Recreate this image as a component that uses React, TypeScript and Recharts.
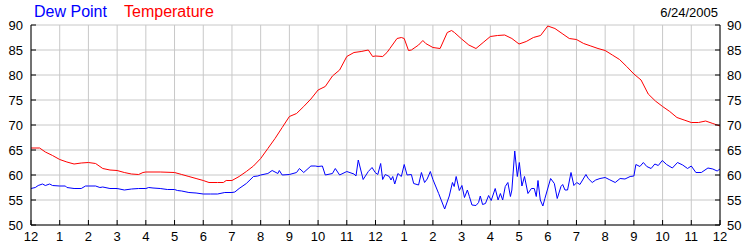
import React from 'react';
import { LineChart, Line, XAxis, YAxis, CartesianGrid } from 'recharts';

// hours since midnight, 6/24/2005
const hourTicks = [0, 1, 2, 3, 4, 5, 6, 7, 8, 9, 10, 11, 12, 13, 14, 15, 16, 17, 18, 19, 20, 21, 22, 23, 24];
const hourLabels = ['12', '1', '2', '3', '4', '5', '6', '7', '8', '9', '10', '11', '12', '1', '2', '3', '4', '5', '6', '7', '8', '9', '10', '11', '12'];
const valueTicks = [50, 55, 60, 65, 70, 75, 80, 85, 90];

const tempHours = [
  0, 0.3, 0.5, 0.75, 1, 1.25, 1.5, 1.75, 2, 2.25, 2.5, 2.75, 3, 3.25, 3.5, 3.75, 3.9, 4, 4.5, 5,
  5.25, 5.5, 5.75, 6, 6.2, 6.5, 6.7, 6.8, 7, 7.25, 7.5, 7.75, 8, 8.25, 8.5, 8.75, 9, 9.25, 9.5, 9.75,
  10, 10.25, 10.5, 10.75, 11, 11.25, 11.5, 11.75, 11.9, 12, 12.25, 12.4, 12.5, 12.75, 12.9, 13, 13.15, 13.25, 13.5, 13.65,
  13.75, 14, 14.25, 14.5, 14.65, 14.75, 15, 15.25, 15.5, 15.75, 16, 16.25, 16.5, 16.75, 17, 17.25, 17.5, 17.75, 18, 18.25,
  18.5, 18.75, 19, 19.25, 19.5, 19.75, 20, 20.25, 20.5, 20.75, 21, 21.25, 21.5, 21.75, 22, 22.25, 22.5, 22.75, 23, 23.25,
  23.5, 23.75, 24,
];
const tempValues = [
  65.4, 65.4, 64.6, 63.9, 63.1, 62.6, 62.2, 62.4, 62.5, 62.3, 61.3, 61.0, 60.9, 60.5, 60.2, 60.1, 60.5, 60.6, 60.6, 60.5,
  60.1, 59.7, 59.3, 58.9, 58.5, 58.5, 58.5, 58.9, 58.9, 59.7, 60.7, 61.8, 63.3, 65.3, 67.3, 69.5, 71.7, 72.3, 73.7, 75.2,
  77.0, 77.7, 79.8, 81.0, 83.7, 84.5, 84.7, 85.0, 83.7, 83.8, 83.7, 84.5, 85.3, 87.3, 87.5, 87.3, 84.9, 85.0, 86.0, 86.9,
  86.3, 85.5, 85.3, 88.5, 88.9, 88.5, 87.2, 86.0, 85.3, 86.5, 87.7, 87.9, 88.0, 87.3, 86.2, 86.7, 87.5, 87.9, 89.8, 89.3,
  88.3, 87.3, 87.1, 86.3, 85.8, 85.3, 84.9, 84.0, 83.1, 81.7, 80.2, 79.0, 76.2, 74.8, 73.7, 72.7, 71.5, 71.0, 70.5, 70.5,
  70.8, 70.3, 69.8,
];

const dewHours = [
  0, 0.15, 0.25, 0.4, 0.5, 0.65, 0.75, 1, 1.2, 1.25, 1.5, 1.75, 1.9, 2, 2.25, 2.4, 2.5, 2.75, 3, 3.25,
  3.5, 3.75, 4, 4.1, 4.25, 4.5, 4.75, 5, 5.1, 5.25, 5.5, 5.75, 6, 6.25, 6.5, 6.75, 7, 7.1, 7.25, 7.5,
  7.75, 7.9, 8, 8.25, 8.4, 8.5, 8.6, 8.65, 8.75, 9, 9.25, 9.35, 9.5, 9.75, 9.9, 10, 10.15, 10.25, 10.5, 10.6,
  10.75, 11, 11.25, 11.32, 11.4, 11.57, 11.75, 11.88, 11.99, 12.08, 12.18, 12.25, 12.34, 12.48, 12.54, 12.6, 12.67, 12.78, 12.9, 13,
  13.1, 13.25, 13.33, 13.5, 13.6, 13.71, 13.8, 13.91, 14, 14.2, 14.41, 14.57, 14.68, 14.74, 14.81, 14.92, 15.01, 15.1, 15.2, 15.27,
  15.36, 15.5, 15.59, 15.65, 15.73, 15.83, 15.94, 16.03, 16.17, 16.27, 16.35, 16.43, 16.52, 16.61, 16.7, 16.75, 16.85, 16.94, 17.01, 17.1,
  17.19, 17.31, 17.43, 17.53, 17.6, 17.66, 17.74, 17.83, 17.9, 18.1, 18.23, 18.33, 18.46, 18.52, 18.6, 18.69, 18.81, 18.91, 19.01, 19.12,
  19.33, 19.41, 19.55, 19.67, 19.82, 20, 20.14, 20.35, 20.52, 20.69, 20.87, 21, 21.07, 21.21, 21.33, 21.45, 21.6, 21.73, 21.85, 21.99,
  22.14, 22.34, 22.52, 22.7, 22.87, 23, 23.16, 23.35, 23.58, 23.75, 23.9, 24,
];
const dewValues = [
  57.3, 57.5, 57.9, 58.2, 57.9, 58.2, 57.9, 57.8, 57.8, 57.5, 57.3, 57.3, 57.8, 57.8, 57.8, 57.5, 57.6, 57.3, 57.3, 57.0,
  57.2, 57.3, 57.3, 57.5, 57.4, 57.3, 57.1, 57.1, 56.9, 56.8, 56.5, 56.4, 56.2, 56.2, 56.2, 56.5, 56.5, 56.6, 57.3, 58.3,
  59.7, 59.8, 60.0, 60.3, 60.9, 60.6, 60.3, 60.9, 60.0, 60.1, 60.5, 61.3, 60.5, 61.8, 61.8, 61.7, 61.8, 60.0, 60.3, 61.3,
  60.0, 60.7, 60.2, 59.8, 63.0, 59.1, 60.7, 61.5, 60.5, 60.1, 62.3, 59.1, 60.1, 59.7, 59.0, 59.7, 58.2, 60.3, 59.7, 62.1,
  60.0, 60.1, 58.3, 58.0, 60.5, 58.5, 59.2, 60.7, 59.1, 56.3, 53.2, 55.8, 58.5, 57.7, 59.7, 56.9, 57.9, 55.5, 57.0, 55.7,
  54.0, 53.9, 54.5, 55.8, 54.1, 54.3, 55.9, 54.9, 57.3, 55.0, 56.3, 55.0, 57.7, 58.5, 55.7, 57.0, 64.8, 59.7, 62.5, 57.8,
  59.7, 56.3, 57.3, 57.3, 55.7, 58.9, 55.0, 53.8, 55.3, 59.3, 58.3, 55.3, 57.7, 58.1, 57.0, 57.0, 60.5, 57.9, 58.5, 58.1,
  60.1, 59.3, 58.5, 59.0, 59.3, 59.5, 59.1, 58.5, 59.3, 59.2, 59.7, 59.8, 62.1, 61.7, 62.5, 61.7, 61.3, 62.2, 61.9, 62.9,
  62.1, 61.4, 62.5, 62.0, 61.3, 61.8, 60.5, 60.5, 61.4, 61.2, 60.8, 61.2,
];

const tempData = tempHours.map((t, i) => ({ t, v: tempValues[i] }));
const dewData = dewHours.map((t, i) => ({ t, v: dewValues[i] }));

const FONT = '"Liberation Sans", Arial, sans-serif';
const tickStyle = { fill: '#000', fontSize: 13, fontFamily: FONT };

export default function App() {
  return (
    <div style={{ position: 'absolute', left: 0, top: 0, width: 750, height: 250, background: '#fff', fontFamily: FONT }}>
      <div style={{ position: 'absolute', left: 34, top: 4, fontSize: 16, lineHeight: '16px', color: '#0000ff' }}>Dew Point</div>
      <div style={{ position: 'absolute', left: 124, top: 4, fontSize: 16, lineHeight: '16px', color: '#ff0000' }}>Temperature</div>
      <div style={{ position: 'absolute', right: 32, top: 6, fontSize: 13, lineHeight: '13px', color: '#000' }}>6/24/2005</div>
      <LineChart width={750} height={250} margin={{ top: 25, right: 0, bottom: 0, left: 0 }}>
        <CartesianGrid xAxisId="bottom" yAxisId="left" stroke="#c8c8c8" strokeWidth={1} />
        <XAxis
          xAxisId="bottom"
          dataKey="t"
          type="number"
          domain={[0, 24]}
          ticks={hourTicks}
          tickFormatter={(h: number) => hourLabels[h]}
          height={25}
          stroke="#000"
          tickSize={-5}
          tickMargin={12}
          tick={tickStyle}
          interval={0}
          allowDataOverflow
        />
        <XAxis
          xAxisId="top"
          orientation="top"
          dataKey="t"
          type="number"
          domain={[0, 24]}
          ticks={hourTicks}
          tickFormatter={() => ''}
          height={0}
          stroke="#000"
          tickSize={-5}
          interval={0}
          allowDataOverflow
        />
        <YAxis
          yAxisId="left"
          type="number"
          domain={[50, 90]}
          ticks={valueTicks}
          width={31}
          stroke="#000"
          tickSize={-5}
          tickMargin={13}
          tick={tickStyle}
          interval={0}
          allowDataOverflow
        />
        <YAxis
          yAxisId="right"
          orientation="right"
          type="number"
          domain={[50, 90]}
          ticks={valueTicks}
          width={30}
          stroke="#000"
          tickSize={-5}
          tickMargin={12}
          tick={tickStyle}
          interval={0}
          allowDataOverflow
        />
        <Line
          xAxisId="bottom"
          yAxisId="left"
          data={dewData}
          dataKey="v"
          type="linear"
          stroke="#0000ff"
          strokeWidth={1}
          dot={false}
          isAnimationActive={false}
        />
        <Line
          xAxisId="bottom"
          yAxisId="left"
          data={tempData}
          dataKey="v"
          type="linear"
          stroke="#ff0000"
          strokeWidth={1}
          dot={false}
          isAnimationActive={false}
        />
      </LineChart>
    </div>
  );
}
